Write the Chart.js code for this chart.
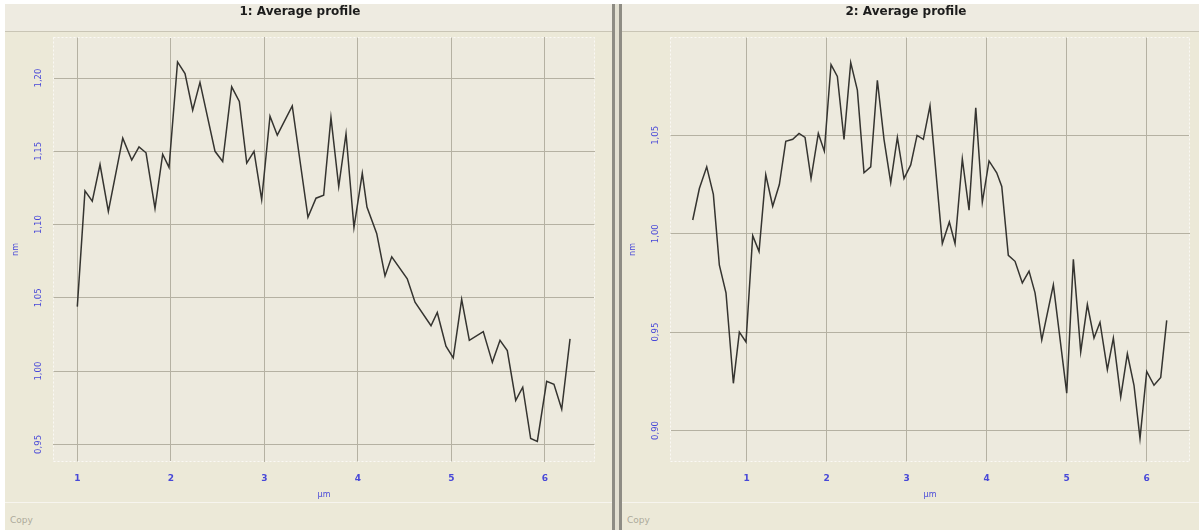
<!DOCTYPE html>
<html>
<head>
<meta charset="utf-8">
<script src="https://cdn.jsdelivr.net/npm/chart.js@4/dist/chart.umd.min.js"></script>
<style>
  body { margin: 0; width: 1199px; height: 530px; background: #fff; position: relative; overflow: hidden; }
  .panel { position: absolute; top: 4px; height: 526px; background: #ECE9D8; }
  .band { position: absolute; left: 0; right: 0; top: 0; height: 27px; background: #EEEBE1; border-bottom: 1px solid #C9C5B5; }
  .foot { position: absolute; left: 0; right: 0; top: 498px; bottom: 0; border-top: 1px solid #F7F5EF; }
  .copy { position: absolute; left: 5px; top: 12px; font: 9px "DejaVu Sans", sans-serif; color: #ADA99B; }
  .divider { position: absolute; left: 612px; top: 4px; width: 10px; height: 526px; box-sizing: border-box;
             background: #E3E0D2; border-left: 3px solid #8E8C84; border-right: 3px solid #8E8C84; }
  canvas { position: absolute; top: 5px; }
</style>
</head>
<body>
<div class="panel" style="left:5px;width:607px"><div class="band"></div><div class="foot"><span class="copy">Copy</span></div></div>
<div class="divider"></div>
<div class="panel" style="left:622px;width:577px"><div class="band"></div><div class="foot"><span class="copy">Copy</span></div></div>
<canvas id="chart1" width="607" height="503" style="left:5px"></canvas>
<canvas id="chart2" width="577" height="503" style="left:622px"></canvas>
<script>
// Profile 1 (position in µm, height in nm)
const xLeft = [1.00, 1.082, 1.160, 1.243, 1.332, 1.486, 1.582, 1.660, 1.735, 1.831, 1.913, 1.981, 2.072, 2.152, 2.234, 2.312,
  2.473, 2.555, 2.651, 2.733, 2.812, 2.890, 2.972, 3.061, 3.139, 3.299, 3.467, 3.553, 3.635, 3.713, 3.796, 3.874, 3.959,
  4.048, 4.098, 4.202, 4.291, 4.363, 4.529, 4.612, 4.783, 4.850, 4.943, 5.021, 5.111, 5.193, 5.342, 5.439, 5.521, 5.599,
  5.689, 5.764, 5.849, 5.920, 6.020, 6.098, 6.181, 6.270];
const yLeft = [1.044, 1.123, 1.116, 1.141, 1.109, 1.159, 1.144, 1.153, 1.149, 1.111, 1.148, 1.139, 1.211, 1.203, 1.178, 1.197,
  1.150, 1.143, 1.194, 1.184, 1.142, 1.150, 1.117, 1.174, 1.161, 1.181, 1.105, 1.118, 1.120, 1.173, 1.126, 1.162, 1.098,
  1.135, 1.112, 1.094, 1.065, 1.078, 1.063, 1.047, 1.031, 1.040, 1.017, 1.009, 1.049, 1.021, 1.027, 1.006, 1.021, 1.014,
  0.980, 0.989, 0.954, 0.952, 0.993, 0.991, 0.974, 1.022];

// Profile 2
const xRight = [0.325, 0.408, 0.500, 0.583, 0.658, 0.741, 0.833, 0.908, 0.991, 1.075, 1.154, 1.238, 1.325, 1.408, 1.488,
  1.575, 1.654, 1.729, 1.804, 1.895, 1.970, 2.054, 2.133, 2.216, 2.300, 2.383, 2.466, 2.550, 2.633, 2.716, 2.800, 2.883,
  2.966, 3.050, 3.129, 3.208, 3.291, 3.445, 3.533, 3.604, 3.695, 3.779, 3.863, 3.945, 4.029, 4.125, 4.188, 4.270, 4.354,
  4.445, 4.529, 4.604, 4.688, 4.833, 5.000, 5.083, 5.175, 5.258, 5.341, 5.416, 5.508, 5.583, 5.675, 5.758, 5.841, 5.916,
  6.000, 6.091, 6.175, 6.250];
const yRight = [1.007, 1.023, 1.034, 1.020, 0.984, 0.970, 0.924, 0.950, 0.945, 0.999, 0.991, 1.030, 1.014, 1.025, 1.047,
  1.048, 1.051, 1.049, 1.028, 1.051, 1.042, 1.086, 1.080, 1.048, 1.087, 1.073, 1.031, 1.034, 1.078, 1.048, 1.026, 1.049,
  1.028, 1.035, 1.050, 1.048, 1.065, 0.995, 1.006, 0.995, 1.038, 1.012, 1.064, 1.016, 1.037, 1.031, 1.024, 0.989, 0.986,
  0.975, 0.981, 0.970, 0.946, 0.974, 0.919, 0.987, 0.940, 0.964, 0.947, 0.955, 0.931, 0.947, 0.917, 0.939, 0.923, 0.896,
  0.930, 0.923, 0.927, 0.956];

// Tick values
const xTicks = [1, 2, 3, 4, 5, 6];
const yTicksLeft = [0.95, 1.00, 1.05, 1.10, 1.15, 1.20];
const yTicksRight = [0.90, 0.95, 1.00, 1.05];

const blue = "#4848d8";
const gridColor = "#B5B1A2";

// Paints the plot area and its dotted white frame
const plotFrame = {
  id: "plotFrame",
  beforeDraw(chart) {
    const a = chart.chartArea, ctx = chart.ctx;
    ctx.save();
    ctx.fillStyle = "#EDEADE";
    ctx.fillRect(a.left, a.top, a.width, a.height);
    ctx.restore();
  },
  beforeDatasetsDraw(chart) {
    const a = chart.chartArea, ctx = chart.ctx;
    ctx.save();
    ctx.strokeStyle = "#FAF9F4";
    ctx.lineWidth = 1;
    ctx.setLineDash([2, 2]);
    ctx.strokeRect(a.left + 0.5, a.top + 0.5, a.width - 1, a.height - 1);
    ctx.restore();
  }
};

function makeChart(id, xs, ys, yTicks, xr, yr, title, padRight) {
  const ctx = document.getElementById(id).getContext("2d");
  return new Chart(ctx, {
    type: "line",
    data: {
      datasets: [{
        data: xs.map((x, i) => ({ x: x, y: ys[i] })),
        borderColor: "#353430",
        borderWidth: 1.5,
        pointRadius: 0,
        tension: 0,
        fill: false
      }]
    },
    options: {
      responsive: false,
      animation: false,
      layout: { padding: { left: 0, right: padRight, top: 0, bottom: 0 } },
      plugins: {
        legend: { display: false },
        tooltip: { enabled: false },
        title: {
          display: true,
          text: title,
          color: "#1c1c1c",
          font: { family: "DejaVu Sans", weight: "bold", size: 12 },
          padding: { top: 0, bottom: 17.6 }
        }
      },
      scales: {
        x: {
          type: "linear",
          min: xr[0], max: xr[1],
          afterBuildTicks: s => { s.ticks = xTicks.map(v => ({ value: v })); },
          afterFit: s => { s.height = 46; },
          grid: { color: gridColor, drawTicks: false },
          border: { display: false },
          ticks: { color: blue, padding: 11, font: { family: "DejaVu Sans", size: 9, weight: "bold" }, callback: v => String(v) },
          title: { display: true, text: "µm", color: blue, font: { family: "DejaVu Sans", size: 8 }, padding: { top: 0, bottom: 8 } }
        },
        y: {
          type: "linear",
          min: yr[0], max: yr[1],
          afterBuildTicks: s => { s.ticks = yTicks.map(v => ({ value: v })); },
          afterFit: s => { s.width = 48; },
          grid: { color: gridColor, drawTicks: false },
          border: { display: false },
          ticks: {
            color: blue, padding: 5, minRotation: 90, maxRotation: 90, crossAlign: "center",
            font: { family: "DejaVu Sans", size: 8.5 },
            callback: v => v.toFixed(2).replace(".", ",")
          },
          title: { display: true, text: "nm", color: blue, font: { family: "DejaVu Sans", size: 8 }, padding: { top: 6, bottom: 0 } }
        }
      }
    },
    plugins: [plotFrame]
  });
}

makeChart("chart1", xLeft, yLeft, yTicksLeft, [0.740, 6.537], [0.938, 1.228], "1: Average profile", 17);
makeChart("chart2", xRight, yRight, yTicksRight, [0.041, 6.541], [0.884, 1.100], "2: Average profile", 9);
</script>
</body>
</html>
